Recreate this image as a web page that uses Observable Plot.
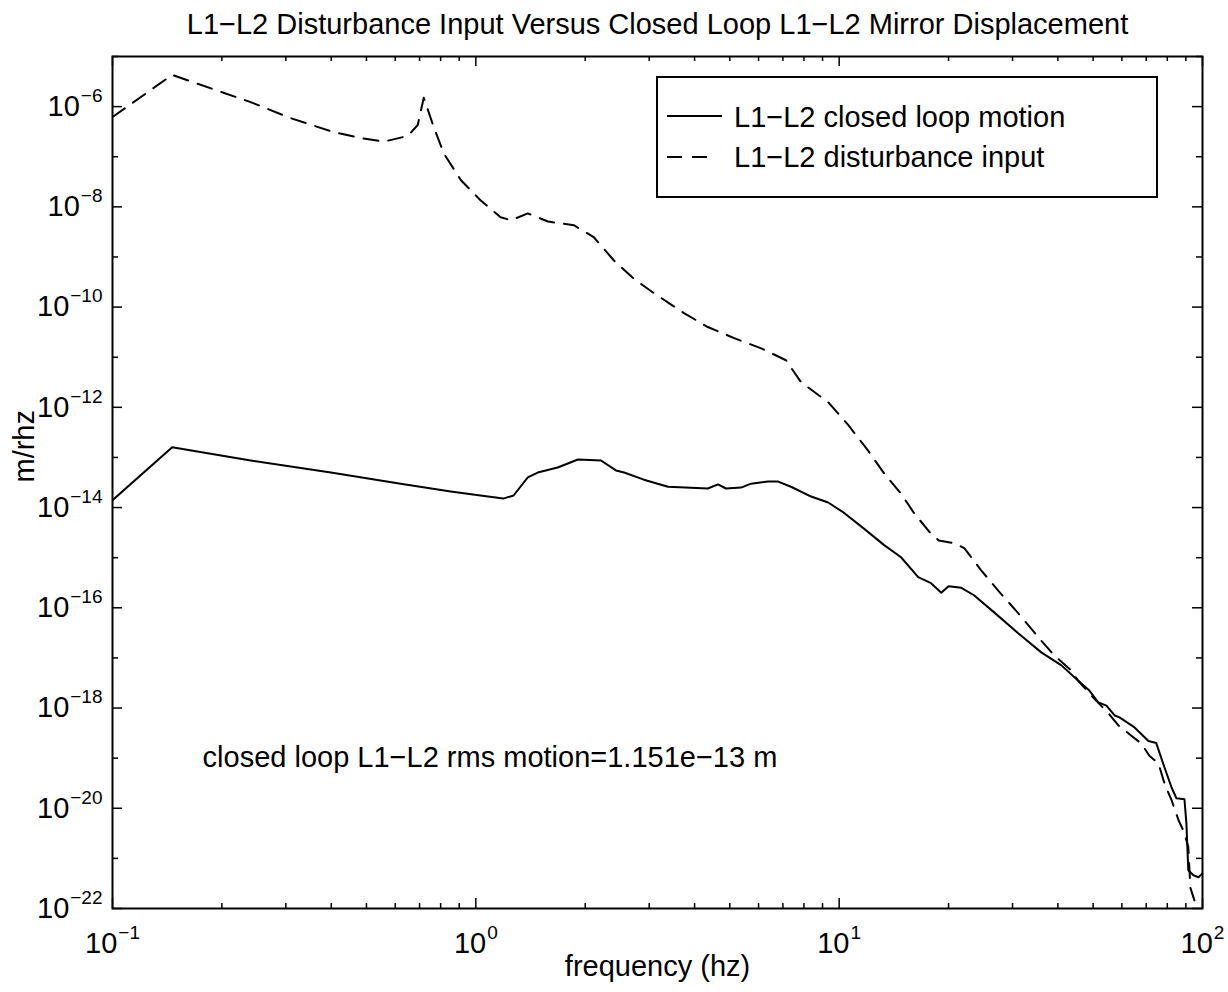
<!DOCTYPE html>
<html><head><meta charset="utf-8">
<script src="https://cdn.jsdelivr.net/npm/d3@7"></script>
<script src="https://cdn.jsdelivr.net/npm/@observablehq/plot@0.6"></script>
<style>
html,body{margin:0;padding:0;background:#fff;}
#wrap{position:relative;width:1228px;height:992px;}
#legend{position:absolute;left:656px;top:76px;}
</style></head><body><div id="wrap"></div>
<script>
// ---- data ----
const titleText = "L1\u2212L2 Disturbance Input Versus Closed Loop L1\u2212L2 Mirror Displacement";
const xLabel = "frequency (hz)";
const yLabel = "m/rhz";
const seriesNames = ["L1\u2212L2 closed loop motion", "L1\u2212L2 disturbance input"];
const noteText = "closed loop L1\u2212L2 rms motion=1.151e\u221213 m";
const noteFreq = 0.177, noteAmp = 1e-19;

const xTicks = [0.1, 1, 10, 100];
const xTickLabels = ["10^\u22121", "10^0", "10^1", "10^2"];
const yTicks = [1e-22, 1e-20, 1e-18, 1e-16, 1e-14, 1e-12, 1e-10, 1e-8, 1e-6];
const yTickLabels = ["10^\u221222", "10^\u221220", "10^\u221218", "10^\u221216", "10^\u221214", "10^\u221212", "10^\u221210", "10^\u22128", "10^\u22126"];
const yMinorTicks = [1e-21, 1e-19, 1e-17, 1e-15, 1e-13, 1e-11, 1e-9, 1e-7, 1e-5];
const xMinorTicks = [0.2,0.3,0.4,0.5,0.6,0.7,0.8,0.9, 2,3,4,5,6,7,8,9, 20,30,40,50,60,70,80,90];

const freqClosed = [0.1, 0.146, 0.240, 0.399, 0.621, 0.853, 1.03, 1.19, 1.27, 1.39, 1.48, 1.68, 1.91, 2.21, 2.43, 2.56, 2.90, 3.38, 4.35, 4.64, 4.88, 5.37, 5.72, 6.37, 6.79, 7.37, 8.37, 9.33, 10.3, 11.7, 13.3, 14.8, 16.5, 17.9, 19.1, 20.0, 21.7, 23.5, 26.7, 31.1, 36.0, 40.9, 45.5, 48.9, 51.7, 54.4, 57.3, 59.1, 65.0, 71.0, 74.6, 78.6, 82.2, 84.8, 89.2, 90.3, 91.4, 94.4, 97.5, 100];
const ampClosed = [1.4e-14, 1.6e-13, 8.7e-14, 5.0e-14, 3.0e-14, 2.1e-14, 1.74e-14, 1.51e-14, 1.74e-14, 4.0e-14, 5.0e-14, 6.3e-14, 9.1e-14, 8.7e-14, 5.5e-14, 5.0e-14, 3.6e-14, 2.6e-14, 2.4e-14, 2.9e-14, 2.4e-14, 2.5e-14, 3.0e-14, 3.3e-14, 3.3e-14, 2.6e-14, 1.66e-14, 1.26e-14, 7.9e-15, 3.8e-15, 1.78e-15, 1.02e-15, 4.1e-16, 3.1e-16, 2.0e-16, 2.7e-16, 2.5e-16, 1.78e-16, 8.1e-17, 3.1e-17, 1.29e-17, 7.1e-18, 3.5e-18, 2.2e-18, 1.29e-18, 1.12e-18, 7.1e-19, 6.5e-19, 4.1e-19, 2.2e-19, 2.0e-19, 6.5e-20, 2.6e-20, 1.58e-20, 1.51e-20, 5.0e-21, 5.8e-22, 4.6e-22, 4.2e-22, 5.0e-22];

const freqDist = [0.1, 0.146, 0.166, 0.240, 0.309, 0.406, 0.491, 0.558, 0.650, 0.692, 0.719, 0.766, 0.816, 0.910, 1.03, 1.17, 1.25, 1.39, 1.58, 1.86, 2.11, 2.40, 2.72, 3.09, 3.74, 4.35, 5.14, 6.10, 7.14, 7.85, 9.33, 10.6, 12.0, 13.3, 14.8, 16.1, 17.9, 18.8, 20.7, 22.1, 24.6, 27.4, 31.1, 35.3, 39.1, 43.5, 45.5, 50.1, 55.1, 58.7, 63.7, 67.9, 71.4, 75.7, 78.6, 82.2, 85.9, 89.2, 91.4, 92.6, 95.0];
const ampDist = [6.2e-7, 4.3e-6, 3.1e-6, 1.23e-6, 5.9e-7, 3.1e-7, 2.3e-7, 2.0e-7, 2.6e-7, 4.3e-7, 1.5e-6, 3.9e-7, 1.17e-7, 3.4e-8, 1.35e-8, 6.2e-9, 5.4e-9, 7.4e-9, 5.1e-9, 4.3e-9, 2.5e-9, 8.5e-10, 3.7e-10, 1.9e-10, 7.6e-11, 4.0e-11, 2.4e-11, 1.5e-11, 8.7e-12, 3.2e-12, 1.26e-12, 4.4e-13, 1.38e-13, 4.8e-14, 1.9e-14, 7.6e-15, 3.0e-15, 2.2e-15, 1.95e-15, 1.55e-15, 5.6e-16, 2.2e-16, 7.8e-17, 2.6e-17, 1.12e-17, 5.6e-18, 3.5e-18, 1.6e-18, 7.8e-19, 4.5e-19, 2.8e-19, 1.95e-19, 1.12e-19, 7.8e-20, 3.1e-20, 1.45e-20, 5.8e-21, 3.2e-21, 1.66e-21, 2.6e-22, 1.45e-22];

// ---- layout ----
const W = 1228, H = 992, mL = 112, mR = 26, mT = 56, mB = 84;
const iw = W - mL - mR, ih = H - mT - mB;
const font = '"Liberation Sans", Arial, Helvetica, sans-serif';
const dash = "15,10";

const closed = freqClosed.map((f, i) => ({f, v: ampClosed[i]}));
const dist = freqDist.map((f, i) => ({f, v: ampDist[i]}));

const chart = Plot.plot({
  width: W, height: H,
  marginLeft: mL, marginRight: mR, marginTop: mT, marginBottom: mB,
  style: {fontFamily: font, fontSize: "29px", color: "black", background: "white"},
  x: {type: "log", domain: [0.1, 100]},
  y: {type: "log", domain: [1e-22, 1e-5]},
  marks: [
    Plot.line(closed, {x: "f", y: "v", stroke: "black", strokeWidth: 2, clip: true}),
    Plot.line(dist, {x: "f", y: "v", stroke: "black", strokeWidth: 2, strokeDasharray: dash, clip: true}),
    // inward ticks
    Plot.ruleX(xTicks, {stroke: "black", strokeWidth: 1.5, insetTop: ih - 10}),
    Plot.ruleX(xTicks, {stroke: "black", strokeWidth: 1.5, insetBottom: ih - 10}),
    Plot.ruleX(xMinorTicks, {stroke: "black", strokeWidth: 1.5, insetTop: ih - 5}),
    Plot.ruleX(xMinorTicks, {stroke: "black", strokeWidth: 1.5, insetBottom: ih - 5}),
    Plot.ruleY(yTicks, {stroke: "black", strokeWidth: 1.5, insetRight: iw - 10}),
    Plot.ruleY(yTicks, {stroke: "black", strokeWidth: 1.5, insetLeft: iw - 10}),
    Plot.ruleY(yMinorTicks, {stroke: "black", strokeWidth: 1.5, insetRight: iw - 6}),
    Plot.ruleY(yMinorTicks, {stroke: "black", strokeWidth: 1.5, insetLeft: iw - 6}),
    Plot.axisX(xTicks, {anchor: "bottom", tickSize: 0, tickPadding: 24, fontSize: 29,
      tickFormat: d => xTickLabels[xTicks.indexOf(d)], label: null}),
    Plot.axisY(yTicks, {anchor: "left", tickSize: 0, tickPadding: 10, fontSize: 29,
      tickFormat: d => yTickLabels[yTicks.indexOf(d)], label: null}),
    Plot.frame({stroke: "black", strokeWidth: 2}),
    Plot.text([titleText], {text: d => d, frameAnchor: "top", lineAnchor: "bottom", dy: -23, fontSize: 29}),
    Plot.text([xLabel], {text: d => d, frameAnchor: "bottom", lineAnchor: "bottom", dy: 67, fontSize: 29}),
    Plot.text([yLabel], {text: d => d, frameAnchor: "left", lineAnchor: "bottom", rotate: -90, dx: -79, fontSize: 29}),
    Plot.text([{f: noteFreq, v: noteAmp, t: noteText}], {x: "f", y: "v", text: "t", textAnchor: "start", lineAnchor: "middle", fontSize: 29})
  ]
});

// superscript exponents in tick labels
const ns = "http://www.w3.org/2000/svg";
chart.querySelectorAll("text").forEach(t => {
  const m = t.textContent.match(/^10\^(.+)$/);
  if (!m) return;
  t.textContent = "";
  const a = document.createElementNS(ns, "tspan");
  a.textContent = "10";
  const b = document.createElementNS(ns, "tspan");
  b.setAttribute("dy", "-14");
  b.setAttribute("dx", "1");
  b.setAttribute("font-size", "19");
  b.textContent = m[1];
  t.append(a, b);
});

const wrap = document.getElementById("wrap");
wrap.appendChild(chart);

// legend box
const lg = document.createElementNS(ns, "svg");
lg.setAttribute("id", "legend");
lg.setAttribute("width", 502);
lg.setAttribute("height", 122);
lg.style.fontFamily = font;
lg.innerHTML = `
  <rect x="1" y="1" width="500" height="120" fill="white" stroke="black" stroke-width="2"/>
  <line x1="11" x2="66" y1="40" y2="40" stroke="black" stroke-width="2"/>
  <line x1="11" x2="58" y1="81" y2="81" stroke="black" stroke-width="2" stroke-dasharray="${dash}"/>
  <text x="78" y="51" font-size="29" fill="black">${seriesNames[0]}</text>
  <text x="78" y="91" font-size="29" fill="black">${seriesNames[1]}</text>`;
wrap.appendChild(lg);
</script></body></html>
